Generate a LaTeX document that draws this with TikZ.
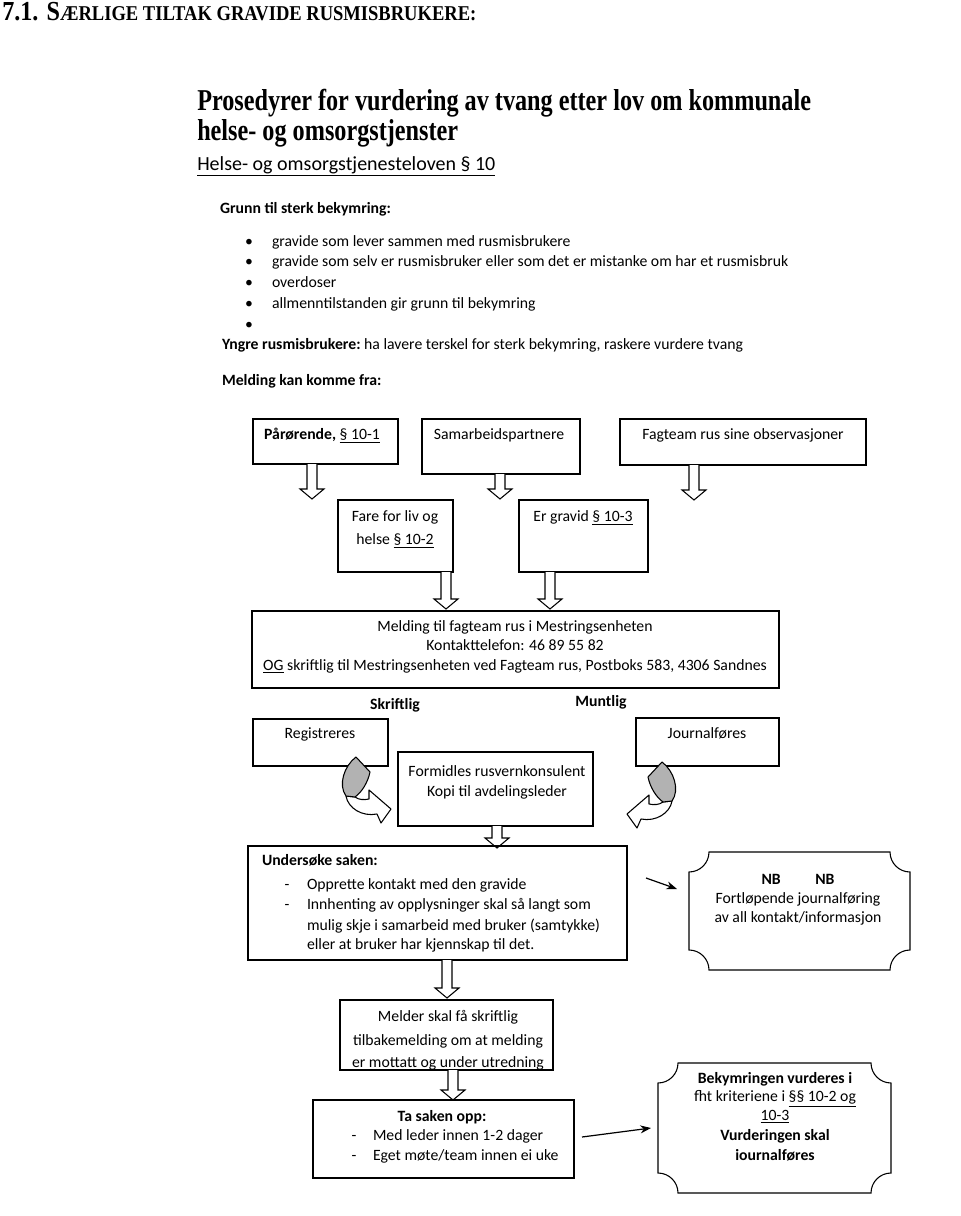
\documentclass[tikz,border=0pt]{standalone}
\usepackage{fontspec}
\setmainfont{Carlito}
\newfontfamily\titlefont{Liberation Serif}[FakeStretch=0.8]
\newfontfamily\headfont{Liberation Serif}[FakeStretch=0.88]
\usetikzlibrary{arrows.meta,fit}
\tikzset{
  box/.style={draw, line width=0.8pt, inner sep=0pt, outer sep=0pt},
  txt/.style={inner sep=0pt, outer sep=0pt, font=\fontsize{11.8}{15}\selectfont, anchor=mid},
  txtl/.style={txt, anchor=mid west},
  hollow/.style={draw, line width=0.8pt, fill=white, line join=miter},
  link/.style={line width=0.9pt, -{Stealth[length=8pt,width=6pt]}},
  band/.style={draw, line width=0.8pt, line join=round},
  curvarrow/.pic={
    \draw[band, fill=white] (355,797) .. controls (359,800) and (364,800) .. (369,799)
      -- (369,790) -- (391,809) -- (381,823) -- (377,814)
      .. controls (362,817) and (348,808) .. (346,796) -- cycle;
    \draw[band, fill=black!30] (356,757) -- (370,772)
      .. controls (368,782) and (362,792) .. (355,797) -- (346,796)
      .. controls (338,785) and (344,766) .. (356,757) -- cycle;
  }
}
\newcommand\harrow[3]{\draw[hollow] (#1-5,#2) -- (#1-5,#3-10) -- (#1-12,#3-10) -- (#1,#3) -- (#1+12,#3-10) -- (#1+5,#3-10) -- (#1+5,#2);}
\newcommand\plaque[5]{\draw[line width=0.8pt] (#1+#5,#2) -- (#3-#5,#2)
  .. controls (#3-#5,#2+0.55*#5) and (#3-0.55*#5,#2+#5) .. (#3,#2+#5) -- (#3,#4-#5)
  .. controls (#3-0.55*#5,#4-#5) and (#3-#5,#4-0.55*#5) .. (#3-#5,#4) -- (#1+#5,#4)
  .. controls (#1+#5,#4-0.55*#5) and (#1+0.55*#5,#4-#5) .. (#1,#4-#5) -- (#1,#2+#5)
  .. controls (#1+0.55*#5,#2+#5) and (#1+#5,#2+0.55*#5) .. cycle;}
\begin{document}
\begin{tikzpicture}[x=0.75pt,y=-0.75pt]
\useasboundingbox (0,0) rectangle (960,1216);
\fill[white] (0,0) rectangle (960,1216);

% heading
\node[inner sep=0pt, anchor=mid west] (head) at (2,17) {\headfont\bfseries\fontsize{20.6}{22}\selectfont 7.1. S\fontsize{15.8}{17}\selectfont ÆRLIGE TILTAK GRAVIDE RUSMISBRUKERE:};

% title
\node[inner sep=0pt, anchor=mid west] (t1) at (197,107) {\titlefont\bfseries\fontsize{22.7}{24}\selectfont Prosedyrer for vurdering av tvang etter lov om kommunale};
\node[inner sep=0pt, anchor=mid west] (t2) at (197,137) {\titlefont\bfseries\fontsize{22.7}{24}\selectfont helse- og omsorgstjenster};
\node[inner sep=0pt, anchor=mid west] (t3) at (197,167) {\fontsize{15}{17}\selectfont\underline{Helse- og omsorgstjenesteloven § 10}};

\node[txtl] (g0) at (220,210) {\bfseries Grunn til sterk bekymring:};
\foreach \yy/\tt in {243/gravide som lever sammen med rusmisbrukere,
  263/gravide som selv er rusmisbruker eller som det er mistanke om har et rusmisbruk,
  284/overdoser, 305/allmenntilstanden gir grunn til bekymring}{
  \node[txt] at (249,\yy) {•};
  \node[txtl] at (272,\yy) {\tt};
}
\node[txt] (bl) at (249,326) {•};
\node[txtl] (yn) at (222,346) {\bfseries Yngre rusmisbrukere:\mdseries\ ha lavere terskel for sterk bekymring, raskere vurdere tvang};
\node[txtl] (mk) at (222,382) {\bfseries Melding kan komme fra:};

% first row
\node[box, fit={(253,419) (398,464)}] (b1) {};
\node[txt] at (322,436) {\bfseries Pårørende, \mdseries\underline{§ 10-1}};
\node[box, fit={(422,419) (580,474)}] (b2) {};
\node[txt] at (499,436) {Samarbeidspartnere};
\node[box, fit={(620,419) (866,465)}] (b3) {};
\node[txt] at (743,436) {Fagteam rus sine observasjoner};
\harrow{312}{464}{499}
\harrow{500}{474}{499}
\harrow{694}{465}{500}

% second row
\node[box, fit={(338,500) (453,572)}] (b4) {};
\node[txt] at (395,518) {Fare for liv og};
\node[txt] at (395,541) {helse \underline{§ 10-2}};
\node[box, fit={(519,500) (648,572)}] (b5) {};
\node[txt] at (583,518) {Er gravid \underline{§ 10-3}};
\harrow{446}{572}{609}
\harrow{550}{572}{609}

% big box
\node[box, fit={(252,611) (779,688)}] (b6) {};
\node[txt] at (515,628) {Melding til fagteam rus i Mestringsenheten};
\node[txt] at (515,647) {Kontakttelefon: 46 89 55 82};
\node[txt] at (515,667) {\underline{OG} skriftlig til Mestringsenheten ved Fagteam rus, Postboks 583, 4306 Sandnes};

\node[txt] (skr) at (395,706) {\bfseries Skriftlig};
\node[txt] (mun) at (601,703) {\bfseries Muntlig};

\node[box, fit={(253,719) (388,766)}] (b7) {};
\node[txt] at (320,735) {Registreres};
\node[box, fit={(636,718) (779,766)}] (b8) {};
\node[txt] at (707,735) {Journalføres};
\node[box, fit={(398,752) (593,826)}] (b9) {};
\node[txt] at (497,773) {Formidles rusvernkonsulent};
\node[txt] at (497,793) {Kopi til avdelingsleder};

\pic at (0,0) {curvarrow};
\pic[xscale=-1] at (1018,5) {curvarrow};

\harrow{497}{826}{848}

% investigate
\node[box, fit={(248,846) (627,960)}] (b10) {};
\node[txtl] at (262,862) {\bfseries Undersøke saken:};
\node[txt] at (287,886) {-};
\node[txtl] at (307,886) {Opprette kontakt med den gravide};
\node[txt] at (287,906) {-};
\node[txtl] at (307,906) {Innhenting av opplysninger skal så langt som};
\node[txtl] at (307,927) {mulig skje i samarbeid med bruker (samtykke)};
\node[txtl] at (307,946) {eller at bruker har kjennskap til det.};

\plaque{689}{852}{910}{970}{20}
\node[fit={(689,852) (910,970)}, inner sep=0pt] (b11) {};
\node[txt] at (798,881) {\bfseries NB\hspace{2.2em}NB};
\node[txt] at (798,900) {Fortløpende journalføring};
\node[txt] at (798,919) {av all kontakt/informasjon};
\coordinate (a1) at (646,878);
\coordinate (a1e) at (677,889);
\draw[link] (a1) -- (a1e);

\harrow{447}{960}{998}

\node[txt] at (448,1018) {Melder skal få skriftlig};
\node[txt] at (448,1042) {tilbakemelding om at melding};
\node[txt] at (448,1064) {er mottatt og under utredning};
\fill[white] (340,1070.6) rectangle (553,1078);
\node[box, fit={(340,1000) (553,1070)}] (b12) {};

\harrow{453}{1070}{1100}

\node[box, fit={(313,1100) (574,1178)}] (b13) {};
\node[txt] at (442,1118) {\bfseries Ta saken opp:};
\node[txt] at (354,1137) {-};
\node[txtl] at (373,1137) {Med leder innen 1-2 dager};
\node[txt] at (354,1157) {-};
\node[txtl] at (373,1157) {Eget møte/team innen ei uke};

\plaque{658}{1063}{891}{1193}{20}
\node[fit={(658,1063) (891,1193)}, inner sep=0pt] (b14) {};
\node[txt] at (775,1080) {\bfseries Bekymringen vurderes i};
\node[txt] at (775,1098) {fht kriteriene i \underline{§§ 10-2 og}};
\node[txt] at (775,1117) {\underline{10-3}};
\node[txt] at (775,1137) {\bfseries Vurderingen skal};
\node[txt] at (775,1157) {\bfseries iournalføres};
\coordinate (a2) at (582,1137);
\coordinate (a2e) at (651,1128);
\draw[link] (a2) -- (a2e);
\end{tikzpicture}
\end{document}
